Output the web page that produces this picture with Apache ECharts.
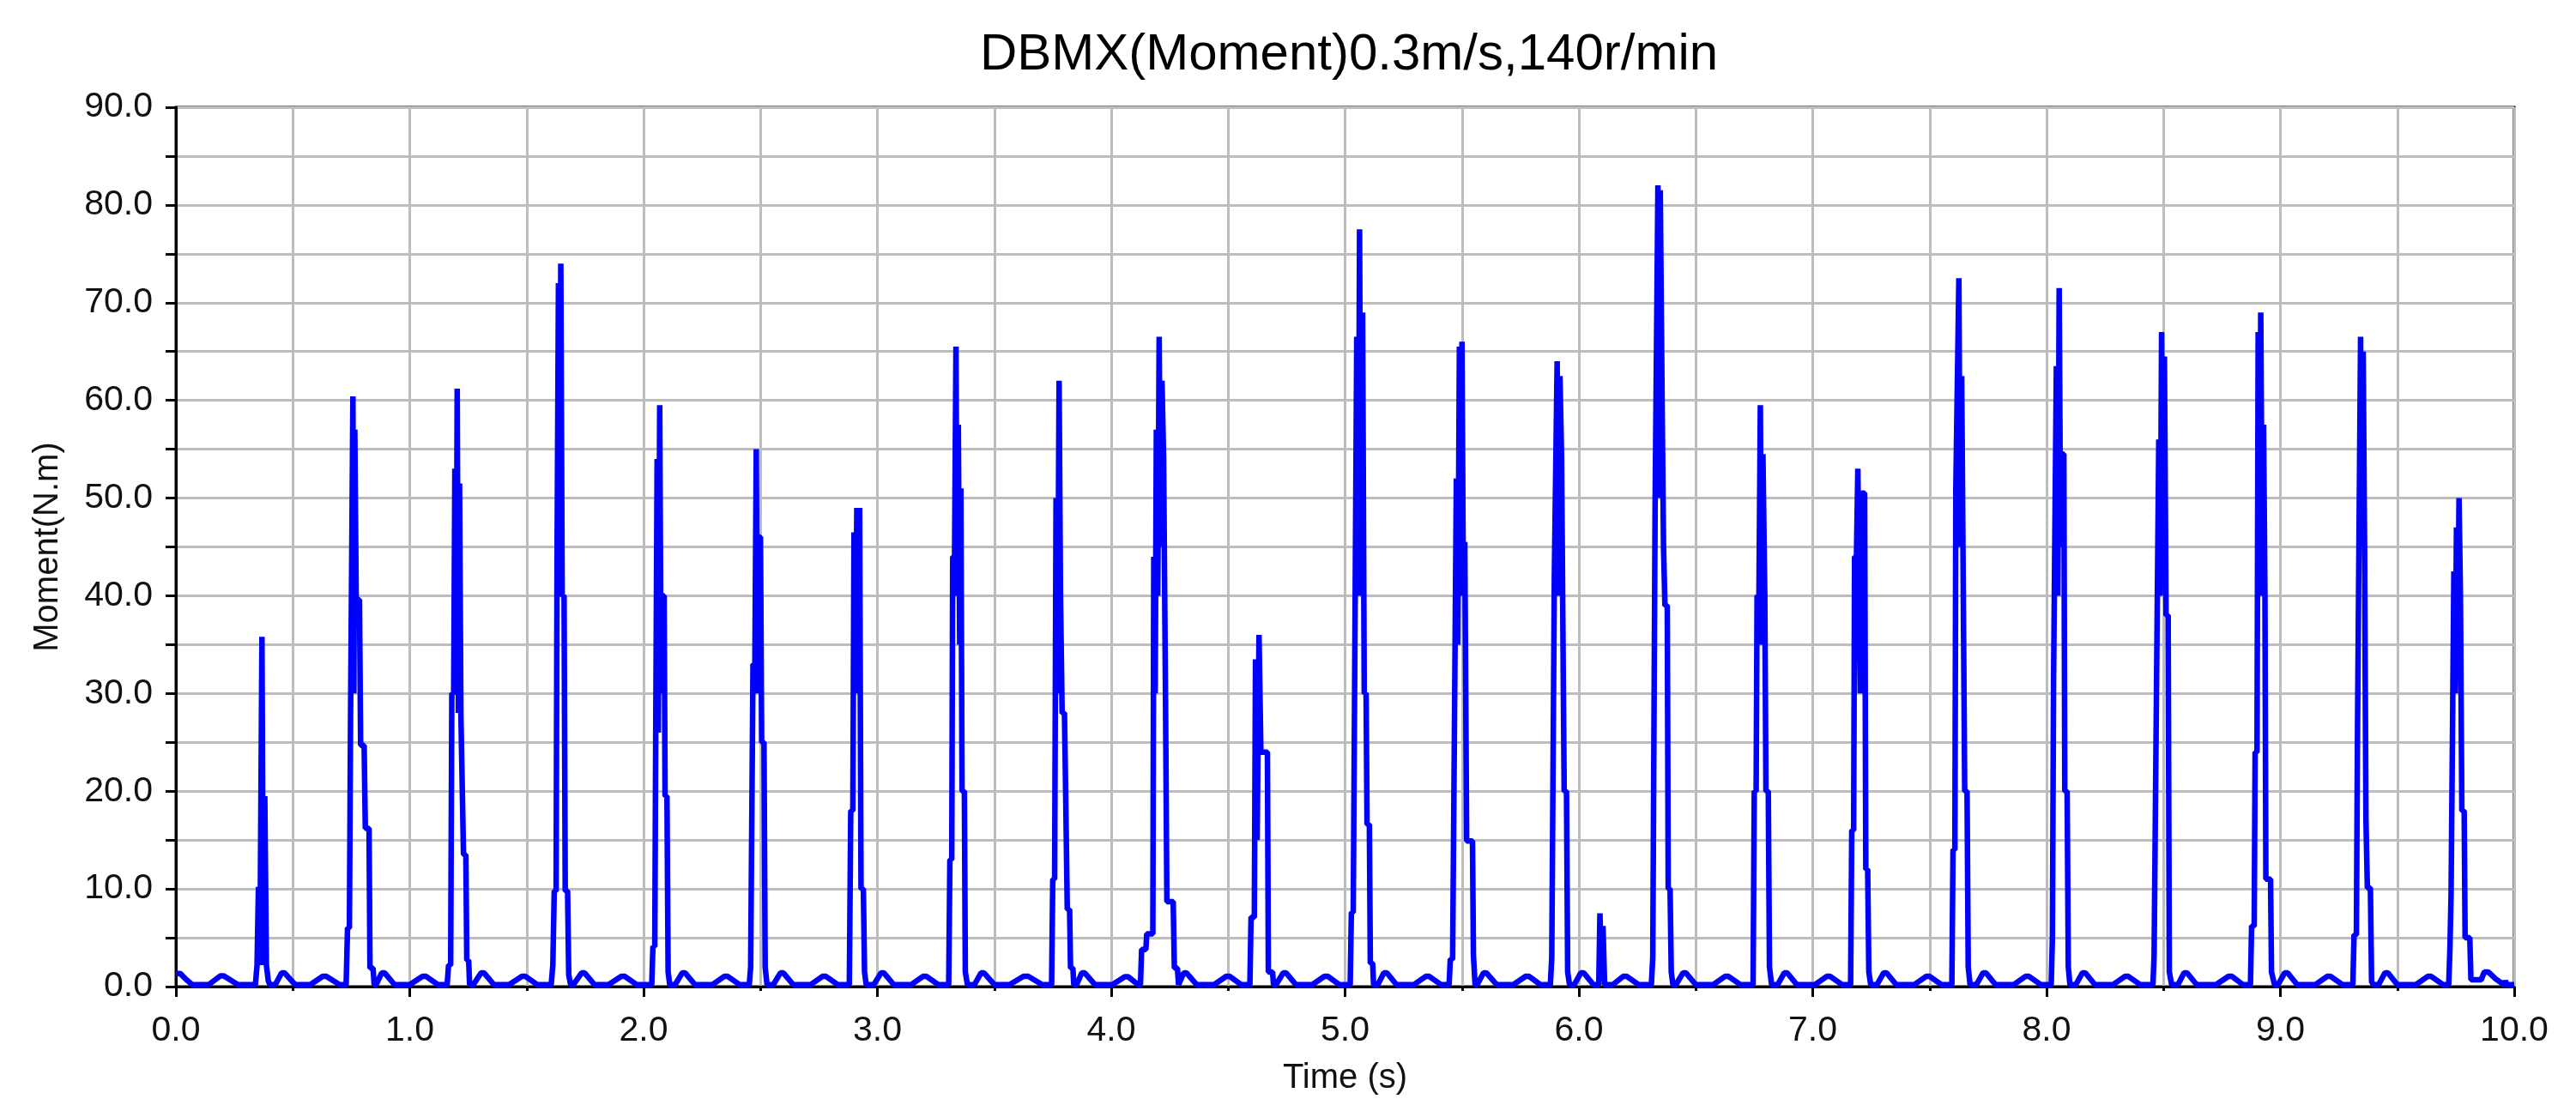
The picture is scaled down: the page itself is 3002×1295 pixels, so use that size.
<!DOCTYPE html>
<html><head><meta charset="utf-8">
<script src="https://cdn.jsdelivr.net/npm/echarts@6/dist/echarts.min.js"></script>
<style>html,body{margin:0;padding:0;background:#fff}#c{width:3002px;height:1295px}</style>
</head><body><div id="c"></div><script>
const chartTitle = 'DBMX(Moment)0.3m/s,140r/min';
const xAxisName = 'Time (s)';
const yAxisName = 'Moment(N.m)';

// Time samples (s), one line per shaft revolution
const timeS = [
  0.000, 0.018, 0.045, 0.07, 0.14, 0.19, 0.205, 0.265,
  0.340, 0.347, 0.353, 0.359, 0.368, 0.374, 0.380, 0.387, 0.395, 0.402, 0.425, 0.452, 0.465, 0.51, 0.575, 0.628, 0.643, 0.70,
  0.728, 0.734, 0.742, 0.747, 0.753, 0.757, 0.761, 0.765, 0.771, 0.785, 0.79, 0.805, 0.81, 0.826, 0.83, 0.843, 0.848, 0.856, 0.88, 0.893, 0.935, 1.0, 1.055, 1.07, 1.12,
  1.16, 1.166, 1.175, 1.18, 1.188, 1.193, 1.198, 1.203, 1.208, 1.213, 1.219, 1.226, 1.23, 1.24, 1.244, 1.252, 1.256, 1.272, 1.305, 1.318, 1.36, 1.425, 1.48, 1.495, 1.545,
  1.605, 1.612, 1.618, 1.626, 1.63, 1.636, 1.641, 1.646, 1.652, 1.66, 1.665, 1.675, 1.68, 1.688, 1.70, 1.735, 1.748, 1.79, 1.85, 1.905, 1.92, 1.97,
  2.035, 2.04, 2.048, 2.052, 2.058, 2.063, 2.069, 2.075, 2.08, 2.088, 2.092, 2.1, 2.105, 2.112, 2.135, 2.165, 2.178, 2.22, 2.295, 2.345, 2.36, 2.41,
  2.452, 2.458, 2.464, 2.468, 2.476, 2.482, 2.487, 2.492, 2.5, 2.505, 2.515, 2.52, 2.528, 2.555, 2.585, 2.598, 2.64, 2.715, 2.765, 2.78, 2.83,
  2.88, 2.886, 2.895, 2.9, 2.906, 2.912, 2.918, 2.924, 2.93, 2.94, 2.945, 2.952, 2.985, 3.015, 3.028, 3.07, 3.145, 3.195, 3.21, 3.26,
  3.305, 3.31, 3.318, 3.322, 3.33, 3.336, 3.341, 3.346, 3.352, 3.357, 3.362, 3.372, 3.376, 3.385, 3.415, 3.443, 3.456, 3.5, 3.565, 3.625, 3.645, 3.705,
  3.745, 3.75, 3.758, 3.764, 3.77, 3.777, 3.783, 3.79, 3.8, 3.805, 3.812, 3.822, 3.826, 3.836, 3.84, 3.852, 3.874, 3.887, 3.93, 4.005, 4.058, 4.073, 4.115,
  4.125, 4.13, 4.148, 4.152, 4.178, 4.182, 4.188, 4.193, 4.199, 4.205, 4.211, 4.217, 4.224, 4.232, 4.238, 4.265, 4.27, 4.283, 4.288, 4.295, 4.31, 4.322, 4.365, 4.44, 4.492, 4.507, 4.555,
  4.593, 4.598, 4.612, 4.617, 4.624, 4.632, 4.64, 4.668, 4.672, 4.69, 4.694, 4.705, 4.735, 4.748, 4.79, 4.86, 4.912, 4.927, 4.975,
  5.022, 5.027, 5.035, 5.04, 5.046, 5.05, 5.056, 5.062, 5.068, 5.075, 5.082, 5.09, 5.094, 5.104, 5.108, 5.118, 5.122, 5.14, 5.166, 5.179, 5.22, 5.295, 5.345, 5.36, 5.41,
  5.445, 5.45, 5.46, 5.465, 5.472, 5.476, 5.482, 5.489, 5.494, 5.5, 5.506, 5.512, 5.52, 5.545, 5.549, 5.556, 5.565, 5.592, 5.605, 5.648, 5.72, 5.772, 5.787, 5.835,
  5.878, 5.884, 5.89, 5.895, 5.901, 5.907, 5.913, 5.919, 5.926, 5.933, 5.937, 5.947, 5.952, 5.96, 5.98, 6.008, 6.021, 6.062, 6.085, 6.09, 6.097, 6.103, 6.11, 6.145, 6.19, 6.205, 6.255,
  6.31, 6.316, 6.322, 6.326, 6.333, 6.338, 6.343, 6.348, 6.356, 6.362, 6.368, 6.378, 6.382, 6.39, 6.395, 6.402, 6.415, 6.445, 6.458, 6.5, 6.575, 6.625, 6.64, 6.69,
  6.745, 6.75, 6.758, 6.762, 6.77, 6.776, 6.781, 6.787, 6.795, 6.8, 6.81, 6.815, 6.824, 6.85, 6.878, 6.891, 6.932, 7.01, 7.06, 7.075, 7.125,
  7.162, 7.167, 7.175, 7.179, 7.187, 7.193, 7.198, 7.203, 7.21, 7.222, 7.227, 7.235, 7.24, 7.248, 7.275, 7.303, 7.316, 7.357, 7.435, 7.485, 7.5, 7.55,
  7.595, 7.6, 7.608, 7.612, 7.619, 7.625, 7.631, 7.637, 7.644, 7.65, 7.66, 7.665, 7.673, 7.7, 7.728, 7.741, 7.782, 7.86, 7.91, 7.925, 7.975,
  8.02, 8.025, 8.03, 8.037, 8.042, 8.048, 8.054, 8.06, 8.066, 8.074, 8.078, 8.088, 8.093, 8.1, 8.125, 8.153, 8.166, 8.207, 8.285, 8.335, 8.35, 8.4,
  8.455, 8.46, 8.466, 8.47, 8.476, 8.48, 8.486, 8.492, 8.498, 8.504, 8.511, 8.52, 8.525, 8.535, 8.562, 8.588, 8.601, 8.642, 8.725, 8.778, 8.793, 8.84,
  8.872, 8.877, 8.888, 8.892, 8.9, 8.905, 8.91, 8.916, 8.922, 8.928, 8.934, 8.938, 8.958, 8.962, 8.975, 8.99, 9.018, 9.031, 9.072, 9.15, 9.2, 9.215, 9.265,
  9.31, 9.315, 9.325, 9.33, 9.337, 9.343, 9.348, 9.354, 9.36, 9.366, 9.372, 9.385, 9.39, 9.398, 9.42, 9.447, 9.46, 9.5, 9.58, 9.63, 9.645, 9.695,
  9.72, 9.725, 9.73, 9.737, 9.742, 9.748, 9.753, 9.758, 9.764, 9.77, 9.776, 9.786, 9.79, 9.81, 9.815, 9.859, 9.872, 9.889, 9.92, 9.938, 9.95, 9.956, 9.962, 9.968, 10.0
];

// Moment values (N.m), aligned with timeS
const momentNm = [
  1.35, 1.35, 0.7, 0.2, 0.2, 1.1, 1.1, 0.2,
  0.2, 2.2, 10.2, 2.2, 35.8, 2.2, 19.5, 2.2, 0.6, 0.2, 0.2, 1.4, 1.4, 0.2, 0.2, 1.05, 1.05, 0.2,
  0.2, 6.0, 6.0, 28, 28, 60.4, 30, 57, 39.6, 39.6, 24.7, 24.7, 16.2, 16.2, 1.9, 1.9, 0.2, 0.2, 1.4, 1.4, 0.2, 0.2, 1.05, 1.05, 0.2,
  0.2, 2.2, 2.2, 30, 30, 53, 30, 61.2, 28, 51.5, 27.5, 27.5, 13.5, 13.5, 2.7, 2.7, 0.2, 0.2, 1.4, 1.4, 0.2, 0.2, 1.05, 1.05, 0.2,
  0.2, 2.2, 9.8, 9.8, 44, 72, 40, 74, 40, 40, 9.8, 9.8, 1.2, 0.2, 0.2, 1.4, 1.4, 0.2, 0.2, 1.05, 1.05, 0.2,
  0.2, 4.1, 4.1, 26, 54, 26, 59.5, 30, 40, 40, 19.5, 19.5, 1.5, 0.2, 0.2, 1.4, 1.4, 0.2, 0.2, 1.05, 1.05, 0.2,
  0.2, 2, 2, 33, 33, 55, 30, 46, 46, 25, 25, 2, 0.2, 0.2, 1.4, 1.4, 0.2, 0.2, 1.05, 1.05, 0.2,
  0.2, 18, 18, 46.5, 30, 49, 40, 49, 10, 10, 1.5, 0.2, 0.2, 1.4, 1.4, 0.2, 0.2, 1.05, 1.05, 0.2,
  0.2, 13, 13, 44, 44, 65.5, 40, 57.5, 35, 51, 20, 20, 1.5, 0.2, 0.2, 1.4, 1.4, 0.2, 0.2, 1.05, 1.05, 0.2,
  0.2, 11, 11, 50, 30, 62, 40, 28, 28, 20, 7.9, 7.9, 1.9, 1.9, 0.2, 0.2, 1.4, 1.4, 0.2, 0.2, 1.0, 1.0, 0.2,
  0.2, 3.8, 3.8, 5.4, 5.4, 44, 30, 57, 40, 66.5, 45, 62, 54, 30, 8.7, 8.7, 1.9, 1.9, 0.2, 0.2, 1.4, 1.4, 0.2, 0.2, 1.05, 1.05, 0.2,
  0.2, 7.1, 7.1, 33.5, 15, 36, 24, 24, 1.5, 1.5, 0.2, 0.2, 1.4, 1.4, 0.2, 0.2, 1.05, 1.05, 0.2,
  0.2, 7.6, 7.6, 27, 27, 66.5, 40, 77.5, 40, 69, 30, 30, 16.6, 16.6, 2.4, 2.4, 0.2, 0.2, 1.4, 1.4, 0.2, 0.2, 1.05, 1.05, 0.2,
  0.2, 2.8, 2.8, 18, 18, 52, 35, 65.5, 45, 66, 40, 45.5, 14.9, 14.9, 3.2, 0.2, 0.2, 1.4, 1.4, 0.2, 0.2, 1.05, 1.05, 0.2,
  0.2, 3, 3, 42, 42, 64, 40, 62.5, 54, 54, 20, 20, 1.5, 0.2, 0.2, 1.4, 1.4, 0.2, 0.2, 7.5, 0.6, 6.2, 0.2, 0.2, 1.05, 1.05, 0.2,
  0.2, 3, 3, 49.5, 49.5, 82, 50, 81.5, 59.5, 45, 39, 39, 10, 10, 1.5, 0.2, 0.2, 1.4, 1.4, 0.2, 0.2, 1.05, 1.05, 0.2,
  0.2, 20, 20, 40, 40, 59.5, 35, 54.5, 40, 20, 20, 2, 0.2, 0.2, 1.4, 1.4, 0.2, 0.2, 1.05, 1.05, 0.2,
  0.2, 16, 16, 44, 44, 53, 53, 30, 50.5, 50.5, 12, 12, 1.5, 0.2, 0.2, 1.4, 1.4, 0.2, 0.2, 1.05, 1.05, 0.2,
  0.2, 14, 14, 51, 51, 72.5, 45, 62.5, 40, 20, 20, 2, 0.2, 0.2, 1.4, 1.4, 0.2, 0.2, 1.05, 1.05, 0.2,
  0.2, 5, 31.5, 31.5, 63.5, 40, 71.5, 45, 54.5, 54.5, 20, 20, 2, 0.2, 0.2, 1.4, 1.4, 0.2, 0.2, 1.05, 1.05, 0.2,
  0.2, 3.2, 3.2, 30, 30, 56, 40, 67, 45, 64.5, 38, 38, 1.5, 0.2, 0.2, 1.4, 1.4, 0.2, 0.2, 1.05, 1.05, 0.2,
  0.2, 6.2, 6.2, 24, 24, 67, 40, 69, 45, 57.5, 40, 11, 11, 1.5, 0.2, 0.2, 1.4, 1.4, 0.2, 0.2, 1.05, 1.05, 0.2,
  0.2, 5.3, 5.3, 27, 27, 66.5, 45, 65, 45, 17, 10.1, 10.1, 0.5, 0.2, 0.2, 1.4, 1.4, 0.2, 0.2, 1.05, 1.05, 0.2,
  0.2, 3.8, 9.4, 9.4, 42.5, 30, 47, 35, 50, 40, 18, 18, 5, 5, 0.7, 0.7, 1.5, 1.5, 0.8, 0.5, 0.3, 0.1, 0.6, 0.2, 0.2
];

const seriesData = timeS.map((t, i) => [t, momentNm[i]]);
const FONT = "'Liberation Sans', Arial, sans-serif";
const gridColor = '#bdbdbd';

const chart = echarts.init(document.getElementById('c'), null, { renderer: 'canvas' });
chart.setOption({
  animation: false,
  backgroundColor: '#ffffff',
  title: {
    text: chartTitle, left: 1567, top: 29, textAlign: 'center',
    textStyle: { fontFamily: FONT, fontSize: 60, fontWeight: 'normal', color: '#000' }
  },
  grid: { left: 205, right: 72, top: 125, bottom: 145, show: true, borderColor: '#000', borderWidth: 3, backgroundColor: 'transparent' },
  xAxis: {
    type: 'value', min: 0, max: 10, interval: 1,
    name: xAxisName, nameLocation: 'middle', nameGap: 87,
    nameTextStyle: { fontFamily: FONT, fontSize: 40, color: '#111' },
    axisLine: { show: true, onZero: false, lineStyle: { color: '#000', width: 3 } },
    axisTick: { show: true, length: 12, lineStyle: { color: '#000', width: 3 } },
    minorTick: { show: true, splitNumber: 2, length: 5, lineStyle: { color: '#000', width: 3 } },
    splitLine: { show: true, lineStyle: { color: gridColor, width: 3 } },
    minorSplitLine: { show: true, lineStyle: { color: gridColor, width: 3 } },
    axisLabel: { margin: 31, fontFamily: FONT, fontSize: 41, color: '#111', formatter: v => v.toFixed(1) }
  },
  yAxis: {
    type: 'value', min: 0, max: 90, interval: 10,
    name: yAxisName, nameLocation: 'middle', nameGap: 129,
    nameTextStyle: { fontFamily: FONT, fontSize: 40, color: '#111' },
    axisLine: { show: true, onZero: false, lineStyle: { color: '#000', width: 3 } },
    axisTick: { show: true, length: 12, lineStyle: { color: '#000', width: 3 } },
    minorTick: { show: true, splitNumber: 2, length: 12, lineStyle: { color: '#000', width: 3 } },
    splitLine: { show: true, lineStyle: { color: gridColor, width: 3 } },
    minorSplitLine: { show: true, lineStyle: { color: gridColor, width: 3 } },
    axisLabel: { margin: 27, fontFamily: FONT, fontSize: 41, color: '#111', formatter: v => v.toFixed(1) }
  },
  series: [{
    type: 'line', data: seriesData, showSymbol: false, symbol: 'none',
    lineStyle: { color: '#0000ff', width: 6.5 }, z: 3
  }]
});
</script></body></html>
